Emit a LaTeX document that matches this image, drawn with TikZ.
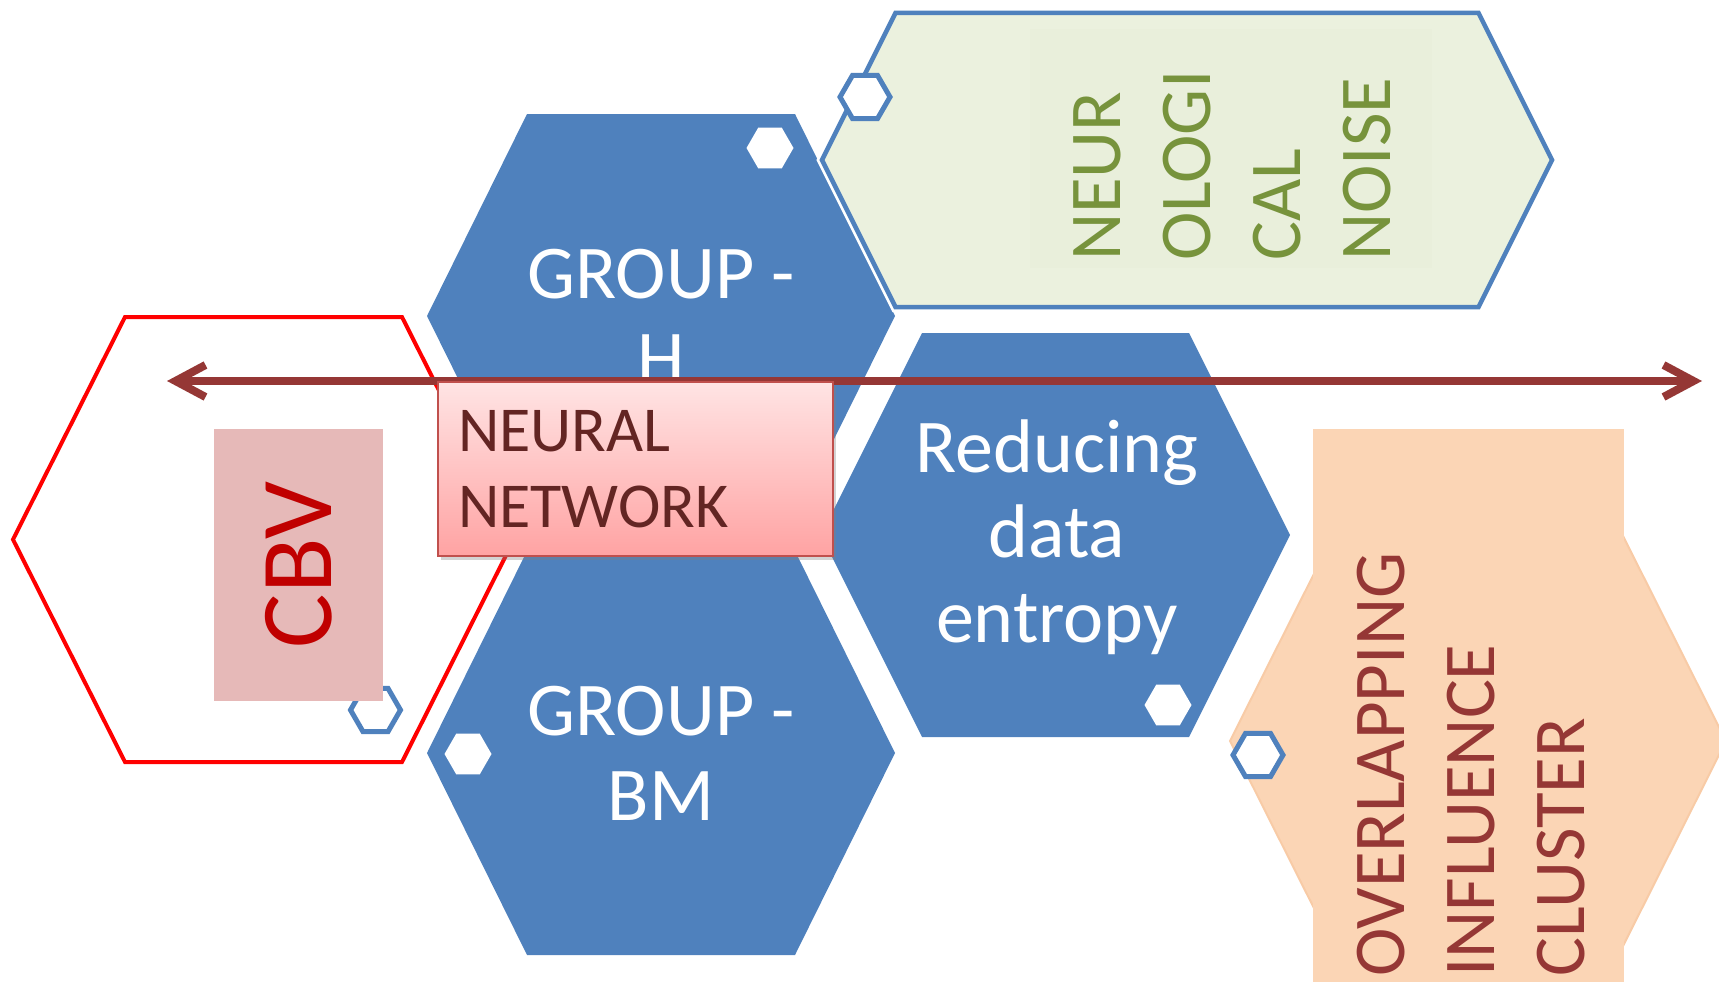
\documentclass[tikz,border=0pt]{standalone}
\usepackage{fontspec}
\setmainfont{Carlito}
\usetikzlibrary{arrows.meta,shapes.geometric,shadows}
\definecolor{hexblue}{HTML}{4F81BD}
\definecolor{cbvfill}{HTML}{E6B9B8}
\definecolor{cbvred}{HTML}{C00000}
\definecolor{greenfill}{HTML}{EBF1DE}
\definecolor{greenin}{HTML}{E9EFDB}
\definecolor{greentxt}{HTML}{77933C}
\definecolor{peach}{HTML}{FBD5B5}
\definecolor{peachedge}{HTML}{F8CBA6}
\definecolor{arrowred}{HTML}{953735}
\definecolor{nnborder}{HTML}{C0504D}
\definecolor{nntop}{HTML}{FFE4E4}
\definecolor{nnbot}{HTML}{FFA3A3}
\definecolor{nntext}{HTML}{632523}
% hexagon path: centre x, centre y, half width, half height, corner inset
\newcommand\hxpath[5]{({#1-#3},{#2}) -- ({#1-#3+#5},{#2-#4}) -- ({#1+#3-#5},{#2-#4}) -- ({#1+#3},{#2}) -- ({#1+#3-#5},{#2+#4}) -- ({#1-#3+#5},{#2+#4}) -- cycle}
\begin{document}
\begin{tikzpicture}[x=1pt,y=-1pt,
  hextxt/.style={text=white, align=center, inner sep=0pt, font=\fontsize{76}{85}\selectfont},
  minihex/.style={regular polygon, regular polygon sides=6, minimum size=47pt, inner sep=0pt, fill=white},
  ringhex/.style={regular polygon, regular polygon sides=6, minimum size=50pt, inner sep=0pt, fill=white, draw=hexblue, line width=5pt},
  vtxt/.style={rotate=90, align=left, inner sep=0pt, anchor=north west, font=\fontsize{73}{90}\selectfont}
]
\path[use as bounding box] (0,0) rectangle (1719,982);

% red hexagon with CBV
\draw[red, line width=4pt] \hxpath{263.5}{539.5}{250.5}{222.5}{112};
\node[ringhex] (r1) at (375.5,710) {};
\node[rotate=90, fill=cbvfill, minimum width=272pt, minimum height=169pt, inner sep=0pt,
      text=cbvred, font=\fontsize{102}{110}\selectfont] (cbv) at (298.5,565) {CBV};

% blue hexagons
\fill[hexblue] \hxpath{661}{316}{234}{202}{100};
\fill[hexblue] \hxpath{661}{753}{234}{202}{100};
\fill[hexblue] \hxpath{1055.5}{535}{234.5}{202}{101};
\node[minihex] (m1) at (770,148) {};
\node[minihex] (m2) at (468,754) {};
\node[minihex] (m3) at (1168,705) {};
\node[hextxt] (gh) at (661,316) {GROUP -\\H};
\node[hextxt] (gbm) at (661,753) {GROUP -\\BM};
\node[hextxt] (rde) at (1057,537) {Reducing\\data\\entropy};

% green hexagon
\draw[white, line width=10pt] \hxpath{1187}{160}{365}{147}{73.5};
\draw[hexblue, fill=greenfill, line width=4.5pt] \hxpath{1187}{160}{365}{147}{73.5};
\fill[greenin] (1030,29) rectangle (1432,268);
\node[vtxt, text=greentxt] (noise) at (1073,261) {NEUR\\OLOGI\\CAL\\NOISE};
\node[ringhex] (r2) at (865,97) {};

% peach hexagon
\draw[fill=peach, draw=peachedge, line width=2pt] \hxpath{1478}{741}{248}{213}{107};
\fill[peach] (1313,429) rectangle (1624,982);
\node[ringhex] (r3) at (1258,755) {};
\node[vtxt, text=arrowred] (olc) at (1357,977) {OVERLAPPING\\INFLUENCE\\CLUSTER};

% double arrow
\coordinate (aL) at (167,381);
\coordinate (aR) at (1702,381);
\draw[arrowred, line width=8pt, {Straight Barb[length=30pt,width=32pt]}-{Straight Barb[length=30pt,width=32pt]}] (aL) -- (aR);

% neural network box
\node[draw=nnborder, line width=2pt, top color=nntop, bottom color=nnbot,
      drop shadow={shadow xshift=3pt, shadow yshift=-4pt, opacity=0.35},
      anchor=north west, text width=355pt, inner xsep=20pt, inner ysep=0pt,
      minimum height=174pt, align=left, text=nntext,
      font=\fontsize{64}{76}\selectfont] (nn) at (437,381) {NEURAL\\NETWORK};
\end{tikzpicture}
\end{document}
